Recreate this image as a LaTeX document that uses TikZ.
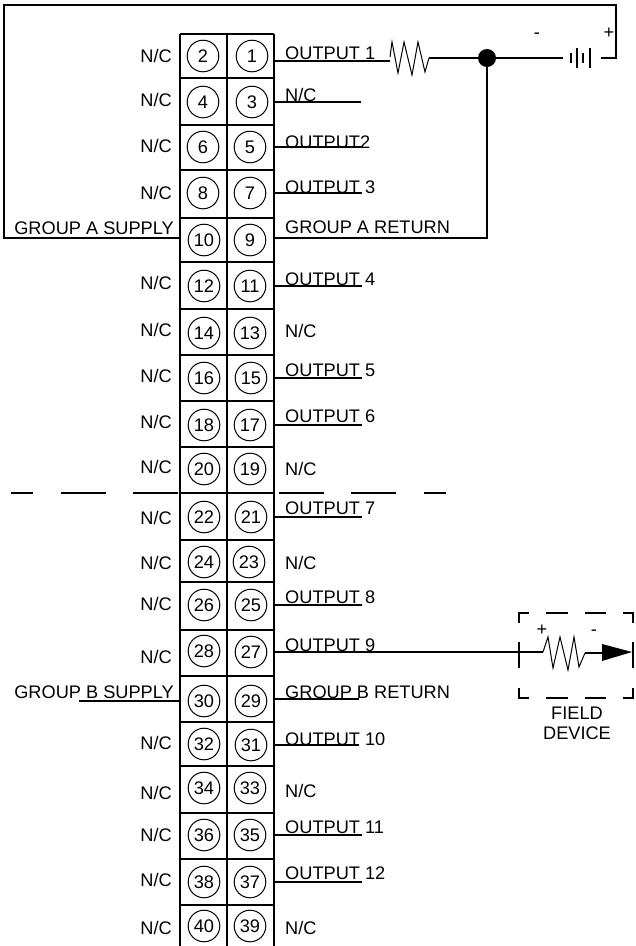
\documentclass[tikz,border=0pt]{standalone}
\usepackage{fontspec}
\setmainfont{Liberation Sans}
\tikzset{
    wire/.style={line width=1.9pt},
    zig/.style={line width=1pt},
    lab/.style={inner sep=0pt,text height=13pt,text depth=0pt,font=\fontsize{18.2}{20}\selectfont},
    term/.style={circle,draw,line width=1pt,inner sep=0pt,minimum size=31.6pt,text height=13pt,text depth=0pt,font=\fontsize{18.2}{20}\selectfont},
    dot/.style={circle,fill,inner sep=0pt,minimum size=18pt}
}
\begin{document}
\begin{tikzpicture}[x=1pt,y=-1pt]
    \useasboundingbox (0,0) rectangle (636,946);
    \coordinate (blockL) at (180,0);
    \coordinate (blockR) at (274,0);
    \foreach \y in {34,78,125,170,218,262,309,355,401,447,493,540,582,630,676,722,766,813,859,905}
      \draw[wire] (180,\y) -- (274,\y);
    \draw[wire] (180,946) -- (180,34);
    \draw[wire] (227,946) -- (227,34);
    \draw[wire] (274,946) -- (274,34);
    \foreach \n/\x/\y in {2/203/56,1/252/56,4/203/102,3/252/102,6/203/147,5/250/147,8/203/193,7/250/193,
      10/204/240,9/250/240,12/204/286,11/250/286,14/204/333,13/250/333,16/204/378,15/251/378,
      18/204/425,17/250/425,20/204/469,19/250/469,22/204/517,21/251/517,24/204/562,23/249/562,
      26/204/605,25/251/605,28/204/651,27/251/652,30/204/701,29/251/701,32/204/744,31/251/745,
      34/204/788,33/250/788,36/204/835,35/250/835,38/204/882,37/250/882,40/204/926,39/250/926}
      \node[term] (t\n) at (\x,\y) {\n};
    \foreach \n/\y in {2/56,4/100,6/146,8/193,12/283,14/330,16/376,18/422,20/467,22/518,24/563,26/604,28/657,32/743,34/793,36/835,38/880,40/928}
      \node[lab,anchor=east] (nc\n) at (172,\y) {N/C};
    \node[lab,anchor=east] (supA) at (174,228) {GROUP A SUPPLY};
    \node[lab,anchor=east] (supB) at (174,692) {GROUP B SUPPLY};
    \foreach \n/\y/\txt in {1/53/OUTPUT 1,3/95/{N/C},5/142/OUTPUT2,7/187/OUTPUT 3,9/227/GROUP A RETURN,
      11/279/OUTPUT 4,13/331/{N/C},15/370/OUTPUT 5,17/416/OUTPUT 6,19/469/{N/C},21/508/OUTPUT 7,
      23/563/{N/C},25/597/OUTPUT 8,27/645/OUTPUT 9,29/692/GROUP B RETURN,31/739/OUTPUT 10,
      33/791/{N/C},35/827/OUTPUT 11,37/873/OUTPUT 12,39/928/{N/C}}
      \node[lab,anchor=west] (out\n) at (285,\y) {\txt};
    \foreach \n/\e in {3/361,5/362,7/362,11/362,15/362,17/362,21/362,25/362,31/359,35/362,37/362}{
      \coordinate (end\n) at (\e,0);
      \draw[wire] (t\n -| blockR) -- (t\n -| end\n);
    }
    \foreach \a/\b in {11/33,61/106,133/178,279/324,351/396,424/446}
      \draw[wire] (\a,493) -- (\b,493);
    \node[dot] (junction) at (487,58) {};
    \coordinate (resA) at (390,57);
    \coordinate (resB) at (429,58);
    \coordinate (batL) at (563,58);
    \coordinate (batR) at (601,58);
    \coordinate (supplyA) at (180,238);
    \coordinate (returnA) at (274,238);
    \draw[wire] (274,61) -- (390,61);
    \draw[zig] (resA) -- (392,42) -- (398,73) -- (404,42) -- (412,75) -- (418,42) -- (425,72) -- (resB);
    \draw[wire] (resB) -- (junction);
    \draw[wire] (junction) -- (batL);
    \foreach \x/\h in {571/5,577/10,583/5,590/10}
      \draw[wire] (\x,{58-\h}) -- (\x,{58+\h});
    \draw[wire] (batR) -| (616,5) -| (4,238) -- (supplyA);
    \draw[wire] (returnA) -| (junction);
    \node[lab] (batMinus) at (537,32) {-};
    \node[lab] (batPlus) at (609,32) {+};
    \coordinate (supplyB) at (79,701);
    \coordinate (returnB) at (359,699);
    \draw[wire] (supplyB) -- (supplyB -| blockL);
    \draw[wire] (returnB -| blockR) -- (returnB);
    \coordinate (resC) at (543,652);
    \coordinate (resD) at (585,653);
    \draw[wire] (t27 -| blockR) -- (resC);
    \draw[zig] (resC) -- (548,637) -- (553,668) -- (560,637) -- (568,670) -- (574,637) -- (579,667) -- (resD);
    \draw[wire] (resD) -- (602,653);
    \fill (602,644) -- (632,652) -- (602,661) -- cycle;
    \draw[wire] (519,642) -- (519,668);
    \draw[wire] (633,642) -- (633,668);
    \draw[wire] (519,623) -- (519,613) -- (529,613);
    \draw[wire] (623,613) -- (633,613) -- (633,623);
    \draw[wire] (519,688) -- (519,698) -- (529,698);
    \draw[wire] (623,698) -- (633,698) -- (633,688);
    \foreach \a/\b in {546/568,585/606} {
      \draw[wire] (\a,613) -- (\b,613);
      \draw[wire] (\a,698) -- (\b,698);
    }
    \node[lab] (devPlus) at (542,629) {+};
    \node[lab] (devMinus) at (594,629) {-};
    \node[lab,align=center] (fieldDev) at (577,733) {FIELD\\DEVICE};
\end{tikzpicture}
\end{document}
